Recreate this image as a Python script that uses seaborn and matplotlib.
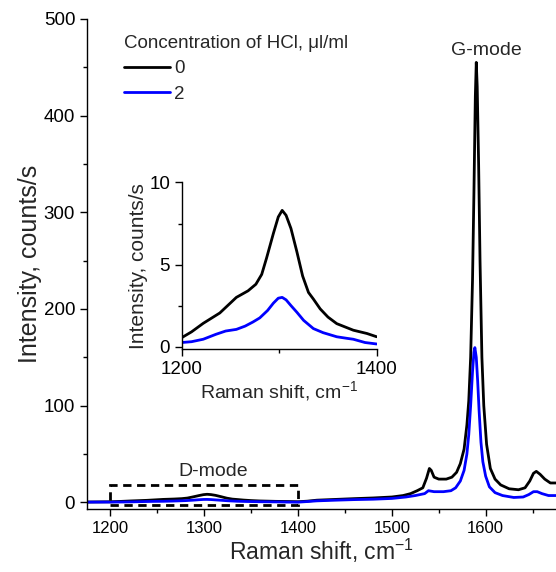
import numpy as np
import pandas as pd
import matplotlib
matplotlib.use("Agg")
import matplotlib.pyplot as plt
import seaborn as sns
from matplotlib.patches import Rectangle
from matplotlib.ticker import MultipleLocator

# Raman shift (cm-1) and intensity (counts/s)
shift_0 = [1175, 1200, 1210, 1222, 1239, 1256, 1268, 1276, 1282, 1287, 1294, 1299, 1303,
           1307, 1312, 1318, 1324, 1330, 1335, 1342, 1350, 1359, 1376, 1390, 1400,
           1410, 1420, 1440, 1460, 1480, 1500, 1512, 1520, 1527, 1533, 1537, 1540,
           1542, 1545, 1550, 1558, 1564, 1569, 1573, 1577, 1580, 1582, 1584, 1586,
           1587.5, 1589, 1590, 1591, 1592.5, 1594, 1596, 1598, 1601, 1605, 1610,
           1616, 1625, 1635, 1642, 1647, 1651, 1654, 1658, 1663, 1669, 1675]
intensity_0 = [0.3, 0.55, 0.9, 1.42, 2.05, 3.0, 3.4, 3.8, 4.4, 5.4, 6.9, 7.9, 8.3,
               8.0, 7.2, 5.8, 4.3, 3.3, 2.9, 2.3, 1.8, 1.4, 1.0, 0.8, 0.6,
               1.2, 2.2, 3.0, 3.8, 4.5, 5.5, 7, 9, 12, 15, 25, 35,
               33, 26, 24, 24, 26, 31, 40, 55, 80, 105, 150, 230,
               320, 420, 455, 430, 350, 250, 150, 100, 60, 35, 24,
               18, 14, 13, 15, 22, 30, 32, 29, 24, 20, 20]

shift_2 = [1175, 1200, 1210, 1222, 1235, 1245, 1256, 1265, 1273, 1280, 1288, 1294, 1299,
           1303, 1307, 1312, 1318, 1325, 1335, 1345, 1359, 1370, 1376, 1388, 1400,
           1410, 1420, 1440, 1460, 1480, 1500, 1515, 1525, 1535, 1539, 1545, 1555,
           1563, 1568, 1573, 1577, 1580, 1582, 1584, 1586, 1587.5, 1588.5, 1590,
           1591.5, 1593, 1595, 1597, 1600, 1604, 1610, 1618, 1630, 1640, 1646,
           1651, 1655, 1660, 1667, 1675]
intensity_2 = [0.2, 0.25, 0.3, 0.45, 0.75, 0.95, 1.05, 1.25, 1.5, 1.75, 2.2, 2.65, 2.95,
               3.0, 2.85, 2.5, 2.1, 1.6, 1.1, 0.85, 0.6, 0.5, 0.45, 0.25, 0.16,
               0.8, 1.5, 2.2, 2.8, 3.2, 4, 5.5, 7, 9, 12, 11, 11,
               12, 15, 22, 33, 50, 70, 100, 135, 155, 160, 150,
               125, 95, 62, 42, 27, 16, 10, 7, 5, 5.5, 8,
               11, 11, 9, 7, 7]

concentrations = ["0", "2"]
colors = ["black", "#0000ff"]

df = pd.concat([
    pd.DataFrame({"shift": shift_0, "intensity": intensity_0, "conc": "0"}),
    pd.DataFrame({"shift": shift_2, "intensity": intensity_2, "conc": "2"}),
])

sns.set_theme(style="ticks")
plt.rcParams["font.family"] = ["Liberation Sans", "DejaVu Sans"]
plt.rcParams["mathtext.fontset"] = "custom"
plt.rcParams["mathtext.rm"] = "Liberation Sans"
plt.rcParams["mathtext.it"] = "Liberation Sans:italic"
for k in ["xtick", "ytick"]:
    plt.rcParams[k + ".direction"] = "out"
    plt.rcParams[k + ".color"] = "black"
    plt.rcParams[k + ".major.width"] = 1.0
    plt.rcParams[k + ".minor.width"] = 1.0
    plt.rcParams[k + ".major.size"] = 5
    plt.rcParams[k + ".minor.size"] = 3
plt.rcParams["axes.edgecolor"] = "black"
plt.rcParams["axes.linewidth"] = 1.0

fig = plt.figure(figsize=(5.56, 5.72), dpi=100)
ax = fig.add_axes([0.1565, 0.110, 0.8435, 0.857])
sns.lineplot(data=df, x="shift", y="intensity", hue="conc", hue_order=concentrations,
             palette=colors, estimator=None, sort=False, linewidth=2, ax=ax)
ax.set_xlim(1175, 1675)
ax.set_ylim(-7, 500)
ax.xaxis.set_major_locator(MultipleLocator(100))
ax.xaxis.set_minor_locator(MultipleLocator(50))
ax.yaxis.set_major_locator(MultipleLocator(100))
ax.yaxis.set_minor_locator(MultipleLocator(50))
ax.tick_params(axis="x", labelsize=12, colors="black")
ax.tick_params(axis="y", labelsize=13.5, colors="black")
ax.set_xlabel("Raman shift, cm$^{-1}$", fontsize=16.5, labelpad=1)
ax.set_ylabel("Intensity, counts/s", fontsize=18, labelpad=1)
sns.despine(ax=ax)

handles, labels = ax.get_legend_handles_labels()
leg = ax.legend(handles, labels, title="Concentration of HCl, μl/ml", frameon=False,
                loc="upper left", bbox_to_anchor=(0.078, 0.968), fontsize=13.5,
                title_fontsize=13.5, handlelength=2.5, handletextpad=0.2,
                labelspacing=0.45, alignment="left", borderaxespad=0, borderpad=0)

ax.add_patch(Rectangle((1200, -3), 200, 20.6, fill=False, edgecolor="black",
                       linestyle=(0, (3, 2)), linewidth=2, zorder=5))
ax.text(1310, 32, "D-mode", ha="center", va="center", fontsize=14)
ax.text(1601, 467, "G-mode", ha="center", va="center", fontsize=14)

# inset with the D-mode region
ins = fig.add_axes([0.327, 0.390, 0.3505, 0.291])
df_d = df[(df["shift"] >= 1200) & (df["shift"] <= 1400)]
sns.lineplot(data=df_d, x="shift", y="intensity", hue="conc", hue_order=concentrations,
             palette=colors, estimator=None, sort=False, linewidth=2, legend=False, ax=ins)
ins.set_xlim(1200, 1400)
ins.set_ylim(-0.14, 10)
ins.set_xticks([1200, 1400])
ins.xaxis.set_minor_locator(MultipleLocator(100))
ins.set_yticks([0, 5, 10])
ins.yaxis.set_minor_locator(MultipleLocator(2.5))
ins.tick_params(labelsize=13.5, colors="black")
ins.set_xlabel("Raman shift, cm$^{-1}$", fontsize=14, labelpad=1)
ins.set_ylabel("Intensity, counts/s", fontsize=15, labelpad=1)
sns.despine(ax=ins)

fig.savefig("out.png", dpi=100)
